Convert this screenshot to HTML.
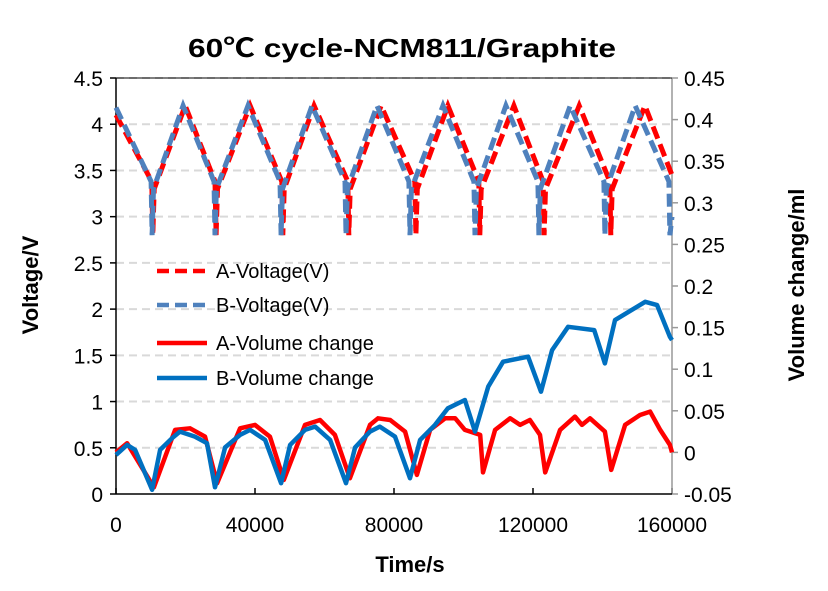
<!DOCTYPE html>
<html><head><meta charset="utf-8"><style>
html,body{margin:0;padding:0;background:#fff}
svg{display:block;font-family:"Liberation Sans","Noto Sans CJK SC",sans-serif}
</style></head><body>
<svg id="c" width="828" height="591" viewBox="0 0 828 591" xmlns="http://www.w3.org/2000/svg">
<rect width="828" height="591" fill="#fff"/>
<text x="402" y="57" text-anchor="middle" font-size="26" font-weight="bold" textLength="428" lengthAdjust="spacingAndGlyphs">60℃ cycle-NCM811/Graphite</text>
<g id="grid"></g>
<g id="axes"></g>
<g id="series"></g>
<text x="410" y="572" text-anchor="middle" font-size="22" font-weight="bold">Time/s</text>
<text transform="translate(38,285) rotate(-90)" text-anchor="middle" font-size="22" font-weight="bold">Voltage/V</text>
<text transform="translate(804,285) rotate(-90)" text-anchor="middle" font-size="22" font-weight="bold">Volume change/ml</text>
<g id="legend"></g>
</svg>
<script>
// time in thousands of seconds
const aVoltT=[0,10.3,10.6,11.0,19.9,28.5,28.8,29.2,38.6,47.7,48.0,48.4,57.0,66.7,67.0,67.4,76.3,86.0,86.3,86.7,95.5,104.4,104.7,105.1,114.5,122.9,123.2,123.6,133.3,142.1,142.4,142.8,152.2,160];
const aVoltV=[4.1,3.38,2.8,3.3,4.2,3.38,2.8,3.3,4.2,3.38,2.8,3.3,4.2,3.38,2.8,3.3,4.2,3.38,2.8,3.3,4.2,3.38,2.8,3.3,4.2,3.38,2.8,3.3,4.2,3.38,2.8,3.3,4.2,3.45];
const bVoltT=[0,10.1,10.4,10.8,19.3,28.2,28.5,28.9,38.0,47.2,47.5,47.9,56.4,65.9,66.2,66.6,75.1,84.3,84.6,85.0,94.1,103.0,103.3,103.7,112.2,121.4,121.7,122.1,130.7,140.4,140.7,141.1,149.4,159.1,159.4,160];
const bVoltV=[4.18,3.38,2.8,3.3,4.2,3.38,2.8,3.3,4.2,3.38,2.8,3.3,4.2,3.38,2.8,3.3,4.2,3.38,2.8,3.3,4.2,3.38,2.8,3.3,4.2,3.38,2.8,3.3,4.2,3.38,2.8,3.3,4.2,3.38,2.8,3.0];
const aVolT=[0,3.2,10.9,17.0,21.3,25.6,29.1,35.7,40.0,44.3,48.3,54.4,58.7,63.0,67.3,73.1,75.4,78.9,83.2,86.6,90.4,94.7,97.6,100.4,104.8,105.6,109.1,113.4,116.3,119.1,122.0,123.5,127.8,132.1,134.1,136.4,140.7,142.5,146.5,150.8,153.7,156.6,159.4,160];
const aVolV=[0.000,0.011,-0.042,0.027,0.029,0.019,-0.037,0.029,0.033,0.019,-0.033,0.033,0.039,0.021,-0.031,0.033,0.041,0.039,0.025,-0.027,0.027,0.041,0.041,0.027,0.021,-0.024,0.027,0.041,0.033,0.039,0.021,-0.024,0.027,0.043,0.033,0.041,0.025,-0.021,0.033,0.045,0.049,0.027,0.009,0.0];
const bVolT=[0,3.2,5.5,10.4,12.7,16.1,18.4,22.7,26.2,28.5,31.4,35.7,38.6,42.9,47.5,50.1,54.4,57.3,61.6,66.2,68.8,73.1,75.9,80.3,84.6,87.5,91.8,95.5,100.4,103.3,107.1,111.4,118.6,122.3,125.5,130.1,137.6,140.7,143.6,152.3,155.7,159.4,160];
const bVolV=[-0.003,0.009,0.003,-0.045,0.003,0.017,0.025,0.019,0.011,-0.042,0.006,0.021,0.027,0.015,-0.037,0.009,0.027,0.031,0.015,-0.037,0.006,0.025,0.031,0.019,-0.031,0.015,0.033,0.053,0.063,0.025,0.079,0.109,0.115,0.073,0.123,0.151,0.147,0.107,0.159,0.181,0.177,0.139,0.135];
const xTicks=[0,40000,80000,120000,160000];
const yLeftTicks=["0","0.5","1","1.5","2","2.5","3","3.5","4","4.5"];
const yRightTicks=["-0.05","0","0.05","0.1","0.15","0.2","0.25","0.3","0.35","0.4","0.45"];
const legendLabels=["A-Voltage(V)","B-Voltage(V)","A-Volume change","B-Volume change"];

const X0=116,X1=672,Y0=494,Y1=78;
const sx=t=>X0+(t/160)*(X1-X0);
const syL=v=>Y0-(v/4.5)*(Y0-Y1);
const syR=v=>Y0-((v+0.05)/0.5)*(Y0-Y1);
const NS="http://www.w3.org/2000/svg";
function mk(tag,attrs,parent){const e=document.createElementNS(NS,tag);for(const k in attrs)e.setAttribute(k,attrs[k]);parent.appendChild(e);return e;}
const grid=document.getElementById('grid'),axes=document.getElementById('axes'),series=document.getElementById('series'),legend=document.getElementById('legend');

yLeftTicks.forEach((s,i)=>{
  const v=parseFloat(s),y=syL(v);
  if(i>0){const g=mk('line',{x1:X0,x2:X1,y1:y,y2:y,stroke:'#d9d9d9','stroke-width':2,'stroke-dasharray':'8,5'},grid);
  
  }
  const tk=mk('line',{x1:X0-6,x2:X0,y1:y,y2:y,stroke:'#000','stroke-width':1.5},axes);
  
  
  const t=mk('text',{x:103,y:y+8,'text-anchor':'end','font-size':21},axes);t.textContent=s;
  
  
});
yRightTicks.forEach(s=>{
  const y=syR(parseFloat(s));
  const tk=mk('line',{x1:X1,x2:X1+6,y1:y,y2:y,stroke:'#999','stroke-width':1.5},axes);
  
  
  const t=mk('text',{x:684,y:y+8,'font-size':21},axes);t.textContent=s;
  
  
});
xTicks.forEach(v=>{
  const x=sx(v/1000);
  const tk=mk('line',{x1:x,x2:x,y1:Y0,y2:Y0-6,stroke:'#000','stroke-width':1.5},axes);
  
  
  const t=mk('text',{x:x,y:532,'text-anchor':'middle','font-size':21},axes);t.textContent=String(v);
  
  
});
const la=mk('line',{x1:X0,x2:X0,y1:Y1,y2:Y0,stroke:'#000','stroke-width':1.5},axes);


const ra=mk('line',{x1:X1,x2:X1,y1:Y1,y2:Y0,stroke:'#999','stroke-width':1.5},axes);


const xa=mk('line',{x1:X0,x2:X1,y1:Y0,y2:Y0,stroke:'#000','stroke-width':1.5},axes);


const ta=mk('line',{x1:X0,x2:X1,y1:Y1,y2:Y1,stroke:'#000','stroke-width':1},axes);



function path(ts,vs,sy){return ts.map((t,i)=>(i?'L':'M')+sx(t).toFixed(1)+','+sy(vs[i]).toFixed(1)).join(' ');}
const p1=mk('path',{d:path(aVolT,aVolV,syR),fill:'none',stroke:'#ff0000','stroke-width':4.5,'stroke-linejoin':'round'},series);


const p2=mk('path',{d:path(bVolT,bVolV,syR),fill:'none',stroke:'#0070c0','stroke-width':4.5,'stroke-linejoin':'round'},series);


const p3=mk('path',{d:path(aVoltT,aVoltV,syL),fill:'none',stroke:'#ff0000','stroke-width':5,'stroke-dasharray':'13,6'},series);


const p4=mk('path',{d:path(bVoltT,bVoltV,syL),fill:'none',stroke:'#4f81bd','stroke-width':5,'stroke-dasharray':'13,6'},series);



const lgY=[271,305,343,378],lgC=['#ff0000','#4f81bd','#ff0000','#0070c0'],lgD=['12,6','12,6','',''];
legendLabels.forEach((s,i)=>{
  const l=mk('line',{x1:157,x2:207,y1:lgY[i],y2:lgY[i],stroke:lgC[i],'stroke-width':4.5,'stroke-dasharray':lgD[i]||'none'},legend);
  
  
  const t=mk('text',{x:216,y:lgY[i]+7,'font-size':20},legend);t.textContent=s;
  
  
});
</script>
</body></html>
